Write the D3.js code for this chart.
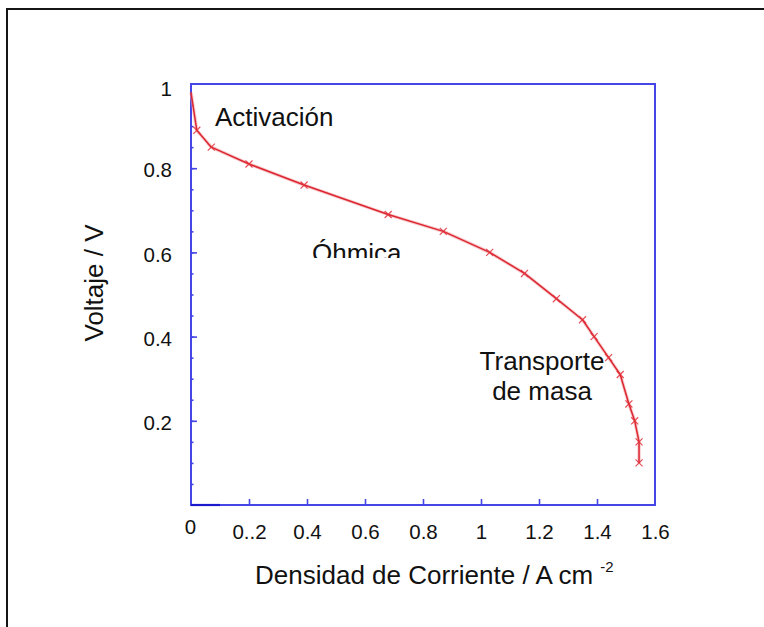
<!DOCTYPE html>
<html>
<head>
<meta charset="utf-8">
<script src="https://cdn.jsdelivr.net/npm/d3@7"></script>
<style>
  html, body { margin: 0; padding: 0; background: #fff; }
  svg { display: block; }
  text { font-family: "Liberation Sans", Arial, Helvetica, sans-serif; fill: #111; }
</style>
</head>
<body>
<svg id="chart" width="764" height="627"></svg>
<script>
// Polarization curve of a fuel cell: current density (A cm^-2) vs. cell voltage (V)
const currentDensity = [0.0, 0.02, 0.07, 0.20, 0.39, 0.68, 0.87, 1.03, 1.15, 1.26, 1.35, 1.39, 1.44, 1.48, 1.51, 1.53, 1.545, 1.545];
const voltage        = [0.98, 0.89, 0.85, 0.81, 0.76, 0.69, 0.65, 0.60, 0.55, 0.49, 0.44, 0.40, 0.35, 0.31, 0.24, 0.20, 0.15, 0.10];

const xTickValues = [0, 0.2, 0.4, 0.6, 0.8, 1.0, 1.2, 1.4, 1.6];
const xTickLabels = ["0", "0..2", "0.4", "0.6", "0.8", "1", "1.2", "1.4", "1.6"];
const yTickValues = [0.2, 0.4, 0.6, 0.8, 1.0];
const yTickLabels = ["0.2", "0.4", "0.6", "0.8", "1"];
const yMinorTicks = d3.range(0.05, 1.0, 0.05);

const regionNames = ["Activación", "Óhmica", "Transporte", "de masa"];

const xTitle = "Densidad de Corriente / A cm";
const xTitleExp = "-2";
const yTitle = "Voltaje / V";

const svg = d3.select("#chart");

const plot = { left: 191, right: 655, top: 84, bottom: 505 };
const x = d3.scaleLinear().domain([0, 1.6]).range([plot.left, plot.right]);
const y = d3.scaleLinear().domain([0, 1]).range([plot.bottom, plot.top]);

const axisBlue = "#4646e6";

// outer frame (top and left edges)
svg.append("path")
  .attr("d", "M7,627 V9 H764")
  .attr("fill", "none")
  .attr("stroke", "#151515")
  .attr("stroke-width", 2);

// plot frame
svg.append("rect")
  .attr("x", plot.left).attr("y", plot.top)
  .attr("width", plot.right - plot.left).attr("height", plot.bottom - plot.top)
  .attr("fill", "none")
  .attr("stroke", axisBlue)
  .attr("stroke-width", 2);

// darker start of the x axis
svg.append("line")
  .attr("x1", x(0)).attr("x2", x(0.1))
  .attr("y1", y(0)).attr("y2", y(0))
  .attr("stroke", "#1a1acc").attr("stroke-width", 2.2);

// x axis: ticks pointing into the plot
const xAxis = d3.axisBottom(x)
  .tickValues(xTickValues)
  .tickFormat((d, i) => xTickLabels[i])
  .tickSizeInner(-6).tickSizeOuter(0).tickPadding(19);
const gx = svg.append("g").attr("transform", `translate(0,${plot.bottom})`).call(xAxis);
gx.select(".domain").remove();
gx.selectAll(".tick line").attr("stroke", axisBlue).attr("stroke-width", 1.6);
gx.selectAll(".tick line").filter(d => d === 0 || d === 1.6).remove();
gx.selectAll(".tick text")
  .attr("font-size", 20.5).attr("fill", "#111")
  .attr("font-family", "Liberation Sans, Arial, sans-serif");
gx.selectAll(".tick text").filter(d => d === 0).attr("dx", -1).attr("dy", "0.5em");

// y axis: minor ticks
const yMinor = d3.axisLeft(y).tickValues(yMinorTicks).tickFormat("").tickSizeInner(-2.5).tickSizeOuter(0);
const gyMinor = svg.append("g").attr("transform", `translate(${plot.left},0)`).call(yMinor);
gyMinor.select(".domain").remove();
gyMinor.selectAll(".tick line").attr("stroke", axisBlue).attr("stroke-width", 1.6);

// y axis: major ticks and labels
const yAxis = d3.axisLeft(y)
  .tickValues(yTickValues)
  .tickFormat((d, i) => yTickLabels[i])
  .tickSizeInner(-6).tickSizeOuter(0).tickPadding(19);
const gy = svg.append("g").attr("transform", `translate(${plot.left},0)`).call(yAxis);
gy.select(".domain").remove();
gy.selectAll(".tick line").attr("stroke", axisBlue).attr("stroke-width", 1.6);
gy.selectAll(".tick line").filter(d => d === 1).remove();
gy.selectAll(".tick text")
  .attr("font-size", 20.5).attr("fill", "#111").attr("dy", "0.42em")
  .attr("font-family", "Liberation Sans, Arial, sans-serif");
gy.selectAll(".tick text").filter(d => d === 1).attr("dy", "0.58em");

// polarization curve
const pts = currentDensity.map((c, i) => [c, voltage[i]]);
const line = d3.line().x(d => x(d[0])).y(d => y(d[1]));

svg.append("path")
  .datum(pts)
  .attr("d", line)
  .attr("fill", "none")
  .attr("stroke", "#f0a0a4")
  .attr("stroke-width", 3.4)
  .attr("stroke-opacity", 0.55)
  .attr("stroke-linejoin", "round");
svg.append("path")
  .datum(pts)
  .attr("d", line)
  .attr("fill", "none")
  .attr("stroke", "#dc2630")
  .attr("stroke-width", 1.5)
  .attr("stroke-linejoin", "round");

const marker = d3.symbol().type(d3.symbolTimes).size(34);
svg.append("g").selectAll("path")
  .data(pts.slice(1))
  .join("path")
  .attr("d", marker)
  .attr("transform", d => `translate(${x(d[0])},${y(d[1])})`)
  .attr("fill", "none")
  .attr("stroke", "#e0303a")
  .attr("stroke-width", 1.2)
  .attr("stroke-opacity", 0.85);

// region annotations
const note = svg.append("g").attr("font-size", 26);
note.append("text").attr("x", 215).attr("y", 126).text(regionNames[0]);

svg.append("clipPath").attr("id", "ohm-clip")
  .append("rect").attr("x", 290).attr("y", 225).attr("width", 140).attr("height", 33);
note.append("text").attr("x", 312).attr("y", 262)
  .attr("clip-path", "url(#ohm-clip)")
  .text(regionNames[1]);

note.append("text").attr("x", 542).attr("y", 370).attr("text-anchor", "middle").text(regionNames[2]);
note.append("text").attr("x", 542).attr("y", 400).attr("text-anchor", "middle").text(regionNames[3]);

// axis titles
const xt = svg.append("text")
  .attr("x", 255).attr("y", 584)
  .attr("font-size", 26);
xt.append("tspan").text(xTitle);
xt.append("tspan").attr("dx", 7).attr("dy", -12).attr("font-size", 15).text(xTitleExp);

svg.append("text")
  .attr("transform", "translate(103,283) rotate(-90)")
  .attr("text-anchor", "middle")
  .attr("font-size", 26)
  .text(yTitle);
</script>
</body>
</html>
